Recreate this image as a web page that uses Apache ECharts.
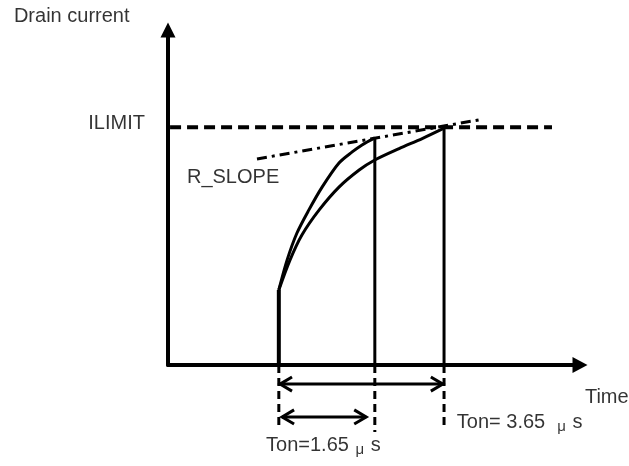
<!DOCTYPE html>
<html>
<head>
<meta charset="utf-8">
<script src="https://cdn.jsdelivr.net/npm/echarts@6/dist/echarts.min.js"></script>
<style>
html,body{margin:0;padding:0;background:#fff;}
#chart{width:629px;height:466px;}
</style>
</head>
<body>
<div id="chart"></div>
<script>
// ---- data (diagram units: x = time, y = drain current) ----
const tStart = 26.9;      // switch-on instant
const tShort = 50.2;      // end of Ton = 1.65 us
const tLong = 67.0;       // end of Ton = 3.65 us
const iLimit = 71.0;      // current limit level
const iStart = 22.4;      // leading-edge current step
const iLimitSpan = [0.5, 93.2];

const curveFast = [[26.9,22.4],[28.9,31.3],[31.3,39.4],[34.2,46.3],[37.4,53.1],[41.5,60.3],[44.7,63.6],[47.1,65.7],[50.2,67.8]];
const curveSlow = [[26.9,22.4],[29.6,31.3],[32.5,38.8],[36.7,46.3],[41.5,53.1],[46.4,58.2],[50.2,61.2],[56.1,64.6],[61.7,67.6],[67.0,70.7]];
const slopeLine = [[21.6,61.5],[76.5,73.4]];

const tShortTop = 67.8;
const tLongTop = 70.7;
const dropStart = -18.2, dropShort = -20.0, dropLong = -18.5;

const bigArrow = {y: -5.7, x0: 27.2, x1: 66.7};
const smallArrow = {y: -15.5, x0: 27.7, x1: 48.1};

const labels = [
  {text: 'Drain current', x: -37.4, y: 103.9, side: 'right'},
  {text: 'ILIMIT', x: -5.6, y: 72.2, side: 'left'},
  {text: 'R_SLOPE', x: 4.6, y: 56.1, side: 'right'},
  {text: 'Time', x: 101.2, y: -9.6, side: 'right'},
  {text: '{a|Ton= 3.65  }{mu|μ}{a| s}', x: 70.1, y: -17.3, side: 'right'},
  {text: '{a|Ton=1.65 }{mu|μ}{a| s}', x: 23.8, y: -24.0, side: 'right'}
];

// ---- chart ----
const FONT = '"Liberation Sans", Arial, sans-serif';
const chart = echarts.init(document.getElementById('chart'), null, {renderer: 'canvas'});

function lineSeries(data, width, type, smooth) {
  return {
    type: 'line', data: data, symbol: 'none', clip: false, silent: true,
    smooth: smooth || false, animation: false,
    lineStyle: {color: '#000', width: width, type: type || 'solid', cap: 'butt', join: 'miter'}
  };
}
function chevron(x, y, dir) {
  const dx = 2.9 * dir, dy = 2.1;
  return [[x + dx, y + dy], [x, y], [x + dx, y - dy]];
}

const series = [
  lineSeries([[iLimitSpan[0], iLimit], [iLimitSpan[1], iLimit]], 4, [11, 6]),
  lineSeries(slopeLine, 3, [10, 5, 3, 5]),
  lineSeries(curveFast, 3, 'solid', 0.3),
  lineSeries(curveSlow, 3, 'solid', 0.3),
  lineSeries([[tStart, 0], [tStart, iStart]], 4),
  lineSeries([[tShort, 0], [tShort, tShortTop]], 3),
  lineSeries([[tLong, 0], [tLong, tLongTop]], 3),
  lineSeries([[tStart, 0], [tStart, dropStart]], 3, [8, 5]),
  lineSeries([[tShort, 0], [tShort, dropShort]], 3, [8, 5]),
  lineSeries([[tLong, 0], [tLong, dropLong]], 3, [8, 5]),
  lineSeries([[bigArrow.x0, bigArrow.y], [bigArrow.x1, bigArrow.y]], 3),
  lineSeries(chevron(bigArrow.x0, bigArrow.y, 1), 3),
  lineSeries(chevron(bigArrow.x1, bigArrow.y, -1), 3),
  lineSeries([[smallArrow.x0, smallArrow.y], [smallArrow.x1, smallArrow.y]], 3),
  lineSeries(chevron(smallArrow.x0, smallArrow.y, 1), 3),
  lineSeries(chevron(smallArrow.x1, smallArrow.y, -1), 3),
  {
    type: 'scatter', clip: false, silent: true, animation: false,
    symbolSize: 0,
    data: labels.map(l => ({
      value: [l.x, l.y],
      label: {
        show: true, position: l.side, distance: 0,
        formatter: l.text,
        color: '#000', fontSize: 20, fontFamily: FONT,
        rich: {
          a: {color: '#000', fontSize: 20, fontFamily: FONT},
          mu: {color: '#000', fontSize: 15, fontFamily: FONT, padding: [8, 1, 0, 1]}
        }
      }
    }))
  }
];

chart.setOption({
  backgroundColor: '#fff',
  animation: false,
  grid: {left: 168, top: 30, right: 49, bottom: 101},
  xAxis: {
    type: 'value', min: 0, max: 100,
    axisLine: {show: true, onZero: false, symbol: ['none', 'triangle'], symbolSize: [16, 15],
      lineStyle: {color: '#000', width: 4}},
    axisTick: {show: false}, axisLabel: {show: false}, splitLine: {show: false}
  },
  yAxis: {
    type: 'value', min: 0, max: 100,
    axisLine: {show: true, onZero: false, symbol: ['none', 'triangle'], symbolSize: [15, 15],
      lineStyle: {color: '#000', width: 4}},
    axisTick: {show: false}, axisLabel: {show: false}, splitLine: {show: false}
  },
  series: series
});
</script>
</body>
</html>
